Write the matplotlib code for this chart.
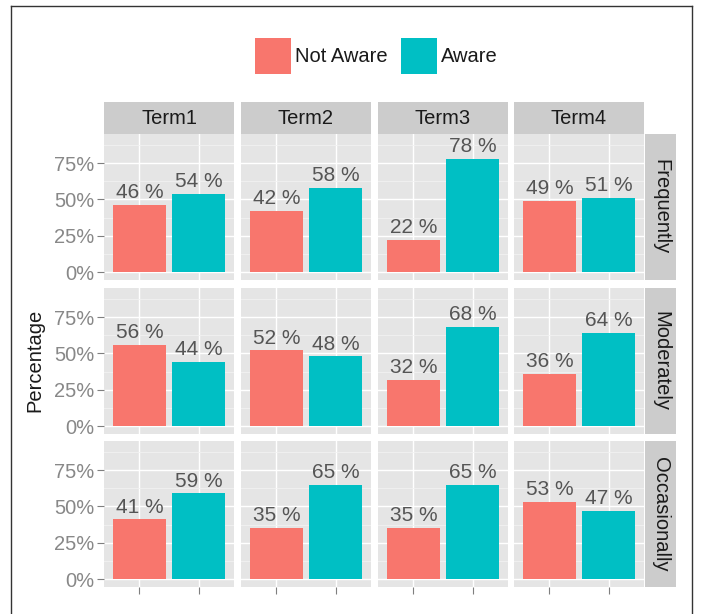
import numpy as np
import matplotlib
matplotlib.use("Agg")
import matplotlib.pyplot as plt
from matplotlib.patches import Rectangle
from matplotlib.lines import Line2D
from matplotlib.ticker import FixedLocator, FuncFormatter

plt.rcParams["font.family"] = ["Liberation Sans", "DejaVu Sans"]

terms = ["Term1", "Term2", "Term3", "Term4"]
freqs = ["Frequently", "Moderately", "Occasionally"]
groups = ["Not Aware", "Aware"]
# percentages per frequency row, one pair (not aware, aware) per term
not_aware = {
    "Frequently":   [46, 42, 22, 49],
    "Moderately":   [56, 52, 32, 36],
    "Occasionally": [41, 35, 35, 53],
}
aware = {
    "Frequently":   [54, 58, 78, 51],
    "Moderately":   [44, 48, 68, 64],
    "Occasionally": [59, 65, 65, 47],
}
colors = ["#F8766D", "#00BFC4"]

W, H = 702, 614
fig = plt.figure(figsize=(W / 100, H / 100), dpi=100)
fig.patch.set_facecolor("white")

def fx(px):
    return px / W

def fy(py):
    return 1 - py / H

col_left = [104, 241, 378, 514]
col_w = 130
row_top = [134, 288, 441]
row_h = 146
strip_h = 32
strip_w = 31

for r, f in enumerate(freqs):
    for c, t in enumerate(terms):
        x0 = col_left[c]
        y0 = row_top[r]
        ax = fig.add_axes([fx(x0), fy(y0 + row_h), fx(col_w), row_h / H])
        ax.set_facecolor("#E5E5E5")
        ax.set_xlim(0.4, 2.6)
        ax.set_ylim(-0.055, 0.95)
        ax.yaxis.set_major_locator(FixedLocator([0, 0.25, 0.5, 0.75]))
        ax.yaxis.set_minor_locator(FixedLocator([0.125, 0.375, 0.625, 0.875]))
        ax.xaxis.set_major_locator(FixedLocator([1, 2]))
        ax.xaxis.set_minor_locator(FixedLocator([1.5]))
        ax.grid(True, which="major", color="white", linewidth=1.0)
        ax.grid(True, which="minor", color="#F2F2F2", linewidth=0.6)
        ax.grid(False, which="minor", axis="x")
        ax.set_axisbelow(True)
        for s in ax.spines.values():
            s.set_visible(False)
        vals = [not_aware[f][c] / 100, aware[f][c] / 100]
        ax.bar([1, 2], vals, width=0.9, color=colors, linewidth=0)
        for xi, v in zip([1, 2], vals):
            ax.annotate(f"{int(round(v * 100))} %", (xi, v), xytext=(0, 2),
                        textcoords="offset points", ha="center", va="bottom",
                        fontsize=15, color="#555555")
        ax.tick_params(which="minor", length=0)
        ax.tick_params(axis="both", which="major", color="#7F7F7F", length=5, width=0.8)
        ax.set_xticklabels([])
        if c == 0:
            ax.yaxis.set_major_formatter(FuncFormatter(lambda v, p: f"{int(round(v * 100))}%"))
            ax.tick_params(axis="y", labelsize=14.5, labelcolor="#888888", pad=2)
        else:
            ax.tick_params(axis="y", left=False, labelleft=False)
        if r < len(freqs) - 1:
            ax.tick_params(axis="x", bottom=False)

        # column strips on top row
        if r == 0:
            fig.patches.append(Rectangle((fx(x0), fy(y0)), fx(col_w), strip_h / H,
                                         transform=fig.transFigure, facecolor="#CCCCCC",
                                         edgecolor="none"))
            fig.text(fx(x0 + col_w / 2), fy(y0 - strip_h / 2), t, ha="center",
                     va="center", fontsize=14.5, color="#1A1A1A")
    # row strip on the right
    sx = col_left[-1] + col_w + 1
    fig.patches.append(Rectangle((fx(sx), fy(row_top[r] + row_h)), fx(strip_w), row_h / H,
                                 transform=fig.transFigure, facecolor="#CCCCCC",
                                 edgecolor="none"))
    fig.text(fx(sx + strip_w / 2), fy(row_top[r] + row_h / 2), f, ha="center",
             va="center", rotation=-90, fontsize=14.5, color="#1A1A1A")

fig.text(fx(35), fy(360), "Percentage", rotation=90, ha="center", va="center",
         fontsize=14.5, color="#1A1A1A")

# legend
leg_x = [255, 401]
leg_lbl_x = [295, 441]
for i, g in enumerate(groups):
    fig.patches.append(Rectangle((fx(leg_x[i]), fy(74)), fx(36), 36 / H,
                                 transform=fig.transFigure, facecolor=colors[i],
                                 edgecolor="none"))
    fig.text(fx(leg_lbl_x[i]), fy(57), g, ha="left", va="center", fontsize=14.5,
             color="#1A1A1A")

# outer frame
fig.lines.append(Line2D([fx(11), fx(11)], [fy(6), 0], transform=fig.transFigure,
                        color="#333333", linewidth=1))
fig.lines.append(Line2D([fx(11), fx(692)], [fy(6), fy(6)], transform=fig.transFigure,
                        color="#333333", linewidth=1))
fig.lines.append(Line2D([fx(692), fx(692)], [fy(6), 0], transform=fig.transFigure,
                        color="#333333", linewidth=1))

fig.savefig("out.png", dpi=100)
